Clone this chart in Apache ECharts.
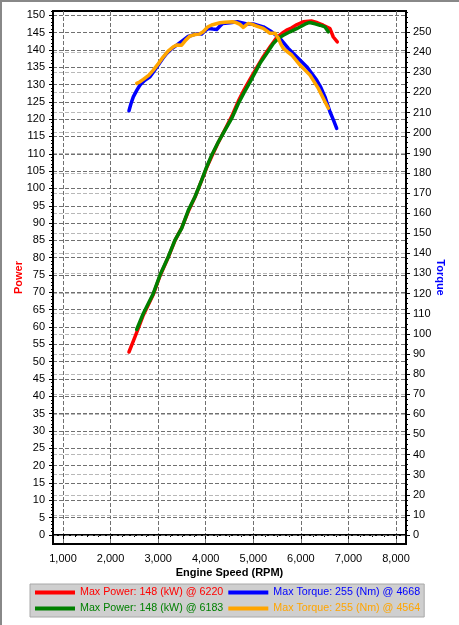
<!DOCTYPE html>
<html><head><meta charset="utf-8">
<script src="https://cdn.jsdelivr.net/npm/echarts@6/dist/echarts.min.js"></script>
<style>
html,body{margin:0;padding:0;background:#fff;}
#c{position:absolute;left:0;top:0;width:459px;height:625px;}
#f{position:absolute;left:0;top:0;width:459px;height:625px;box-sizing:border-box;border-left:2px solid #888;border-top:2px solid #888;pointer-events:none;}
</style>
</head><body><div id="c"></div><div id="f"></div>
<script>
// ---- data ----
const redRpm  = [2387,2480,2550,2690,2900,3040,3215,3355,3495,3635,3775,3915,4020,4125,4265,4405,4546,4686,4800,4930,5070,5210,5350,5490,5630,5701,5800,5910,6050,6220,6350,6470,6612,6682,6766];
const redKw   = [52.8,56.0,58.5,63.5,69.5,74.8,80.2,85.0,88.6,93.4,97.5,102.3,106.0,109.2,113.3,117.0,120.8,125.2,128.3,131.5,134.8,138.0,140.8,143.5,145.0,145.7,146.3,147.2,148.1,148.3,147.8,147.1,146.1,143.7,142.3];
const greenRpm = [2549,2688,2899,3039,3214,3354,3494,3634,3775,3915,4020,4125,4265,4405,4546,4686,4800,4930,5141,5281,5421,5526,5631,5771,5911,6087,6183,6300,6402,6507,6577];
const greenKw  = [59.3,63.9,69.7,75.0,80.3,85.1,88.5,93.7,97.6,102.4,106.2,109.6,113.4,116.8,120.2,124.5,127.5,130.7,136.1,138.9,141.8,143.3,144.2,145.2,146.1,147.4,147.9,147.5,147.1,146.6,145.2];
const blueRpm = [2387,2430,2478,2550,2619,2720,2829,2920,3003,3100,3180,3290,3390,3529,3630,3739,3830,3915,3990,4055,4150,4231,4300,4357,4510,4668,4861,5001,5211,5386,5561,5736,5911,6122,6332,6420,6507,6612,6690,6753];
const blueNm  = [210.9,214.5,217.8,221.0,223.7,226.0,227.8,230.8,233.6,237.0,239.4,241.8,243.5,246.0,247.8,248.6,249.2,249.0,250.8,251.8,251.5,251.3,253.0,254.3,254.6,255.1,254.0,254.0,252.6,250.1,246.9,241.9,237.7,232.8,226.1,222.5,217.8,210.4,206.0,202.1];
const orangeRpm = [2549,2610,2688,2800,2899,3000,3108,3210,3319,3400,3494,3580,3669,3780,3870,3949,4040,4125,4300,4400,4564,4651,4720,4790,4895,4980,5071,5211,5351,5456,5526,5580,5631,5720,5807,5982,6192,6367,6507,6577];
const orangeNm  = [224.5,225.2,226.5,228.5,231.1,234.2,237.7,240.5,242.7,243.6,243.5,246.0,248.0,248.8,249.0,250.2,252.5,253.5,254.6,254.9,255.1,254.6,253.8,252.3,254.3,253.8,253.0,251.8,249.4,249.4,246.9,244.0,241.9,240.2,238.6,233.6,228.6,222.0,215.4,212.1];

const seriesNames = ['Max Power: 148 (kW) @ 6220','Max Torque: 255 (Nm) @ 4668','Max Power: 148 (kW) @ 6183','Max Torque: 255 (Nm) @ 4564'];
const seriesColors = ['#ff0000','#0000ff','#008000','#ffa500'];

const rpmTicks = [1000,2000,3000,4000,5000,6000,7000,8000];
const powerTicks = [0,5,10,15,20,25,30,35,40,45,50,55,60,65,70,75,80,85,90,95,100,105,110,115,120,125,130,135,140,145,150];
const torqueTicks = [0,10,20,30,40,50,60,70,80,90,100,110,120,130,140,150,160,170,180,190,200,210,220,230,240,250];
const rpmMinor = []; for (let v = 1000; v <= 8000; v += 250) rpmMinor.push(v);
const powerMinor = []; for (let v = 0; v <= 151; v += 1) powerMinor.push(v);
const torqueMinor = []; for (let v = 0; v <= 260; v += 2.5) torqueMinor.push(v);

const xRange = [790, 8210];
const powerRange = [-2.6, 151.2];
const torqueRange = [-4.48, 260.47];

// ---- chart ----
const zip = (a, b) => a.map((v, i) => [v, b[i]]);
const FONT = 'Liberation Sans, Arial, sans-serif';
const chart = echarts.init(document.getElementById('c'), null, {renderer: 'canvas'});

const mkSeries = (i, rpm, vals, yIdx) => ({
  name: seriesNames[i], type: 'line', xAxisIndex: 0, yAxisIndex: yIdx,
  data: zip(rpm, vals), showSymbol: false, symbol: 'none', smooth: false,
  color: seriesColors[i],
  lineStyle: {width: 3.5, color: seriesColors[i], join: 'round', cap: 'round'},
  animation: false, z: 3 + i
});

chart.setOption({
  backgroundColor: '#ffffff',
  animation: false,
  grid: {left: 53, right: 53, top: 11, bottom: 81, show: true, borderColor: '#000', borderWidth: 2, backgroundColor: 'transparent'},
  legend: {
    left: 30, top: 584, width: 400, orient: 'horizontal',
    backgroundColor: '#cfcfcf', borderColor: '#a8a8a8', borderWidth: 1, borderRadius: 0,
    padding: [3, 4, 3, 5], itemGap: 5, itemWidth: 40, itemHeight: 4, icon: 'rect',
    textStyle: {fontFamily: FONT, fontSize: 10.7, lineHeight: 10},
    data: seriesNames.map((n, i) => ({name: n, textStyle: {color: seriesColors[i]}})),
    selectedMode: false
  },
  xAxis: [
    {type: 'value', min: xRange[0], max: xRange[1], position: 'bottom',
     name: 'Engine Speed (RPM)', nameLocation: 'middle', nameGap: 23, nameMoveOverlap: false,
     nameTextStyle: {fontFamily: FONT, fontSize: 11, fontWeight: 'bold', color: '#000'},
     axisLine: {show: true, lineStyle: {color: '#000', width: 2}},
     axisTick: {show: true, customValues: rpmTicks, length: 4, lineStyle: {color: '#000'}},
     axisLabel: {customValues: rpmTicks, margin: 9, color: '#000', fontFamily: FONT, fontSize: 11,
                 formatter: v => Number(v).toLocaleString('en-US')},
     splitLine: {show: true, lineStyle: {color: '#707070', width: 1, type: [4, 2]}}},
    {type: 'value', min: xRange[0], max: xRange[1], position: 'bottom',
     axisLine: {show: false}, axisLabel: {show: false}, splitLine: {show: false},
     axisTick: {show: true, customValues: rpmMinor, length: 2, lineStyle: {color: '#000'}}}
  ],
  yAxis: [
    {type: 'value', min: powerRange[0], max: powerRange[1], position: 'left',
     name: 'Power', nameLocation: 'middle', nameGap: 29, nameMoveOverlap: false,
     nameTextStyle: {fontFamily: FONT, fontSize: 11, fontWeight: 'bold', color: '#ff0000'},
     axisLine: {show: true, lineStyle: {color: '#000', width: 2}},
     axisTick: {show: true, customValues: powerTicks, length: 4, lineStyle: {color: '#000'}},
     axisLabel: {customValues: powerTicks, margin: 8, color: '#000', fontFamily: FONT, fontSize: 11},
     splitLine: {show: true, lineStyle: {color: '#707070', width: 1, type: [4, 2]}}, z: 2},
    {type: 'value', min: torqueRange[0], max: torqueRange[1], position: 'right',
     name: 'Torque', nameLocation: 'middle', nameGap: 29, nameRotate: -90, nameMoveOverlap: false,
     nameTextStyle: {fontFamily: FONT, fontSize: 11, fontWeight: 'bold', color: '#0000ff'},
     axisLine: {show: true, lineStyle: {color: '#000', width: 2}},
     axisTick: {show: true, customValues: torqueTicks, length: 4, lineStyle: {color: '#000'}},
     axisLabel: {customValues: torqueTicks, margin: 7, color: '#000', fontFamily: FONT, fontSize: 11},
     splitLine: {show: true, lineStyle: {color: '#b8b8b8', width: 1, type: [4, 2]}}, z: 1},
    {type: 'value', min: powerRange[0], max: powerRange[1], position: 'left',
     axisLine: {show: false}, axisLabel: {show: false}, splitLine: {show: false},
     axisTick: {show: true, customValues: powerMinor, length: 2, lineStyle: {color: '#000'}}},
    {type: 'value', min: torqueRange[0], max: torqueRange[1], position: 'right',
     axisLine: {show: false}, axisLabel: {show: false}, splitLine: {show: false},
     axisTick: {show: true, customValues: torqueMinor, length: 2, lineStyle: {color: '#000'}}}
  ],
  series: [
    mkSeries(0, redRpm, redKw, 0),
    mkSeries(1, blueRpm, blueNm, 1),
    mkSeries(2, greenRpm, greenKw, 0),
    mkSeries(3, orangeRpm, orangeNm, 1)
  ]
});
</script></body></html>
